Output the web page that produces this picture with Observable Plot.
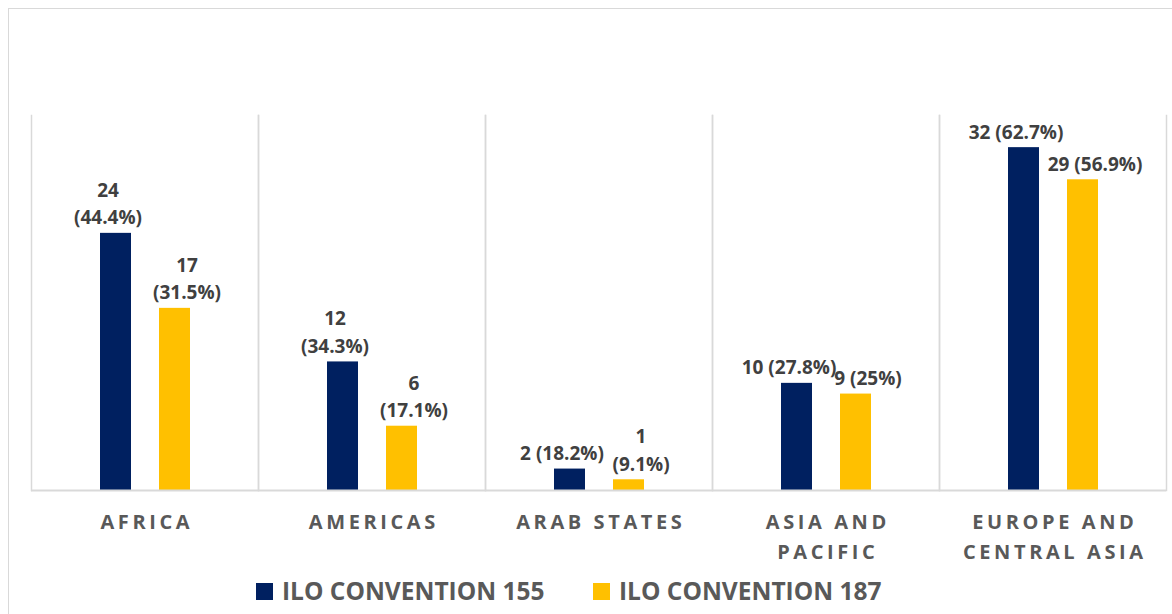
<!DOCTYPE html>
<html>
<head>
<meta charset="utf-8">
<script src="https://cdn.jsdelivr.net/npm/d3@7"></script>
<script src="https://cdn.jsdelivr.net/npm/@observablehq/plot@0.6"></script>
<style>
  html, body { margin: 0; padding: 0; background: #fff; }
  body { width: 1172px; height: 614px; overflow: hidden; position: relative; font-family: "Open Sans", sans-serif; }
  #frame { position: absolute; left: 8px; top: 8px; width: 1180px; height: 640px; border: 1px solid #d9d9d9; box-sizing: border-box; }
  #chart { position: absolute; left: 0; top: 0; }
  .legend-item { position: absolute; top: 579px; display: flex; align-items: flex-start; font-weight: 700; font-size: 24.5px; line-height: 24px; color: #595959; white-space: nowrap; }
  .swatch { width: 17px; height: 17px; margin-top: 4px; margin-right: 9px; display: inline-block; }
  g[aria-label="fx-axis tick label"] text { font-size: 20px; letter-spacing: 3.6px; font-weight: 700; }
</style>
</head>
<body>
<div id="frame"></div>
<div id="chart"></div>
<div class="legend-item" style="left:256px"><span class="swatch" style="background:#002060"></span>ILO CONVENTION 155</div>
<div class="legend-item" style="left:593px"><span class="swatch" style="background:#FFC000"></span>ILO CONVENTION 187</div>
<script>
const regions = ["Africa", "Americas", "Arab States", "Asia and Pacific", "Europe and Central Asia"];
const regionTickLabels = ["AFRICA", "AMERICAS", "ARAB STATES", "ASIA AND\nPACIFIC", "EUROPE AND\nCENTRAL ASIA"];
const series = ["ILO Convention 155", "ILO Convention 187"];
const countries155 = [24, 12, 2, 10, 32];
const countries187 = [17, 6, 1, 9, 29];
const labels155 = ["24\n(44.4%)", "12\n(34.3%)", "2 (18.2%)", "10 (27.8%)", "32 (62.7%)"];
const labels187 = ["17\n(31.5%)", "6\n(17.1%)", "1\n(9.1%)", "9 (25%)", "29 (56.9%)"];
const colors = ["#002060", "#FFC000"];

const data = [];
regions.forEach((r, i) => {
  data.push({region: r, series: series[0], value: countries155[i], label: labels155[i]});
  data.push({region: r, series: series[1], value: countries187[i], label: labels187[i]});
});
const tickLabel = new Map(regions.map((r, i) => [r, regionTickLabels[i]]));

const plot = Plot.plot({
  width: 1172,
  height: 570,
  marginTop: 115,
  marginBottom: 80,
  marginLeft: 29,
  marginRight: 4,
  style: {fontFamily: "'Open Sans', sans-serif", background: "transparent"},
  fx: {domain: regions, padding: 0, label: null},
  x: {domain: series, axis: null, paddingInner: 0.483, paddingOuter: 1.14},
  y: {domain: [0, 35], axis: null},
  color: {domain: series, range: colors},
  marks: [
    Plot.frame({anchor: "left", stroke: "#d9d9d9", strokeWidth: 1.5}),
    Plot.frame({anchor: "right", stroke: "#d9d9d9", strokeWidth: 1.5}),
    Plot.barY(data, {fx: "region", x: "series", y: "value", fill: "series"}),
    Plot.ruleY([0], {stroke: "#d9d9d9", strokeWidth: 2}),
    Plot.text(data.filter(d => d.series === series[0]), {
      fx: "region", x: "series", y: "value", text: "label",
      lineAnchor: "bottom", lineHeight: 1.45, dy: -9, dx: -8,
      fontSize: 19, fontWeight: "bold", fill: "#404040"
    }),
    Plot.text(data.filter(d => d.series === series[1]), {
      fx: "region", x: "series", y: "value", text: "label",
      lineAnchor: "bottom", lineHeight: 1.45, dy: -9, dx: 12,
      fontSize: 19, fontWeight: "bold", fill: "#404040"
    }),
    Plot.axisFx({
      anchor: "bottom", tickSize: 0, tickPadding: 17,
      tickFormat: r => tickLabel.get(r),
      fontSize: 20, fontWeight: "bold", fill: "#595959",
      lineHeight: 1.5, dx: 1.8, label: null
    })
  ]
});

document.getElementById("chart").appendChild(plot);
</script>
</body>
</html>
